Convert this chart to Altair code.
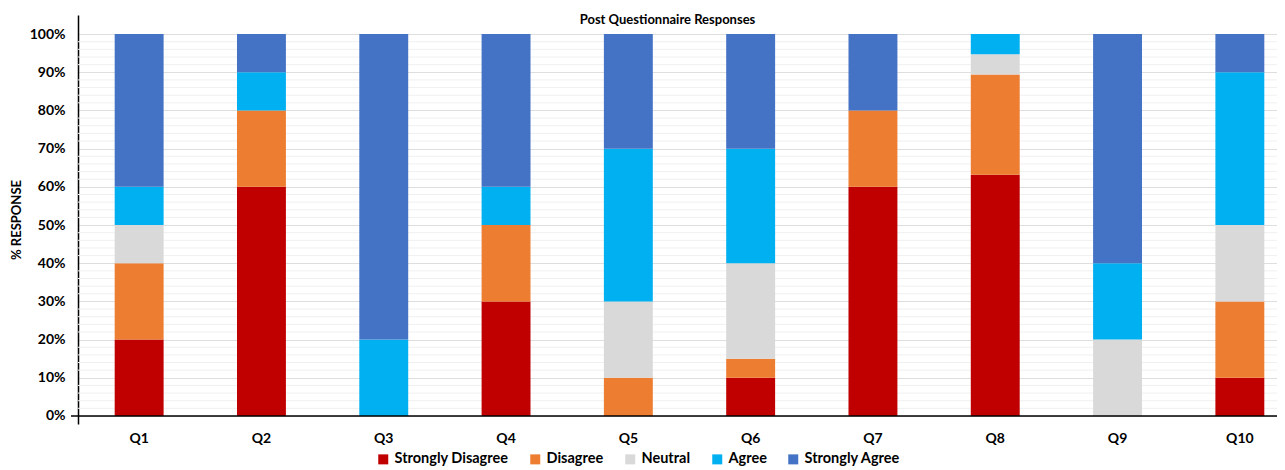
import altair as alt
import pandas as pd

# ---- data ----
questions = ["Q1", "Q2", "Q3", "Q4", "Q5", "Q6", "Q7", "Q8", "Q9", "Q10"]
categories = ["Strongly Disagree", "Disagree", "Neutral", "Agree", "Strongly Agree"]
colors = ["#C00000", "#ED7D31", "#D9D9D9", "#00B0F0", "#4472C4"]

strongly_disagree = [20, 60, 0, 30, 0, 10, 60, 63.2, 0, 10]
disagree          = [20, 20, 0, 20, 10, 5, 20, 26.3, 0, 20]
neutral           = [10, 0, 0, 0, 20, 25, 0, 5.3, 20, 20]
agree             = [10, 10, 20, 10, 40, 30, 0, 5.3, 20, 40]
strongly_agree    = [40, 10, 80, 40, 30, 30, 20, 0, 60, 10]

y_ticks = [0, 0.1, 0.2, 0.3, 0.4, 0.5, 0.6, 0.7, 0.8, 0.9, 1.0]
minor_ticks = [i / 50 for i in range(1, 51) if i % 5 != 0]

series = [strongly_disagree, disagree, neutral, agree, strongly_agree]
rows = []
for i, q in enumerate(questions):
    for k, (cat, vals) in enumerate(zip(categories, series)):
        rows.append({"question": q, "category": cat, "value": vals[i], "order": k})
df = pd.DataFrame(rows)

FONT = "Lato"
W = 1199
H = 409

yscale = alt.Scale(domain=[-0.021, 1.05], nice=False, zero=False)

yaxis = alt.Axis(
    values=y_ticks, format=".0%", ticks=False,
    domain=True, domainColor="#000000", domainWidth=1.5,
    grid=True, gridColor="#dedede", gridWidth=1,
    labelFont=FONT, labelFontWeight="bold", labelFontSize=14,
    labelColor="#000000", labelPadding=13,
    titleFont=FONT, titleFontWeight="bold", titleFontSize=13,
    titleColor="#000000", titlePadding=6,
)

minor = alt.Chart(pd.DataFrame({"g": minor_ticks})).mark_rule(
    color="#f0f0f0", strokeWidth=1
).encode(y=alt.Y("g:Q", scale=yscale, axis=yaxis, title="% RESPONSE"))

bars = alt.Chart(df).mark_bar().encode(
    x=alt.X(
        "question:N",
        sort=questions,
        scale=alt.Scale(range=[0, 1223], paddingInner=0.6, paddingOuter=0.3),
        axis=alt.Axis(
            title=None, domain=False, ticks=False, labelAngle=0,
            labelFont=FONT, labelFontWeight="bold", labelFontSize=14,
            labelColor="#000000", labelPadding=7,
        ),
    ),
    y=alt.Y(
        "value:Q",
        stack="normalize",
        scale=yscale,
        title="% RESPONSE",
        axis=yaxis,
    ),
    color=alt.Color(
        "category:N",
        sort=categories,
        scale=alt.Scale(domain=categories, range=colors),
        legend=alt.Legend(
            title=None, orient="none", direction="horizontal",
            legendX=298, legendY=437,
            symbolType="square", symbolSize=100, symbolStrokeWidth=0,
            labelFont=FONT, labelFontWeight="bold", labelFontSize=14.5,
            labelColor="#000000", labelOffset=4, columnPadding=19,
        ),
    ),
    order=alt.Order("order:Q", sort="ascending"),
)

xaxis_line = alt.Chart(pd.DataFrame({"z": [0]})).mark_rule(
    color="#000000", strokeWidth=1.5
).encode(
    y=alt.Y("z:Q", scale=yscale),
    x=alt.value(-7),
    x2=alt.value(W + 20),
)

chart = alt.layer(minor, bars, xaxis_line).properties(
    width=W,
    height=H,
    title=alt.TitleParams(
        "Post Questionnaire Responses",
        font=FONT, fontSize=13, fontWeight="bold", color="#000000",
        anchor="middle", frame="group", offset=0, baseline="alphabetic",
        dx=-10, dy=22,
    ),
    autosize=alt.AutoSizeParams(type="none"),
    padding={"left": 70, "top": 7, "right": 0, "bottom": 42},
    background="white",
).configure_view(stroke=None)

chart.save("out.html", embed_options={"renderer": "svg", "actions": False})
